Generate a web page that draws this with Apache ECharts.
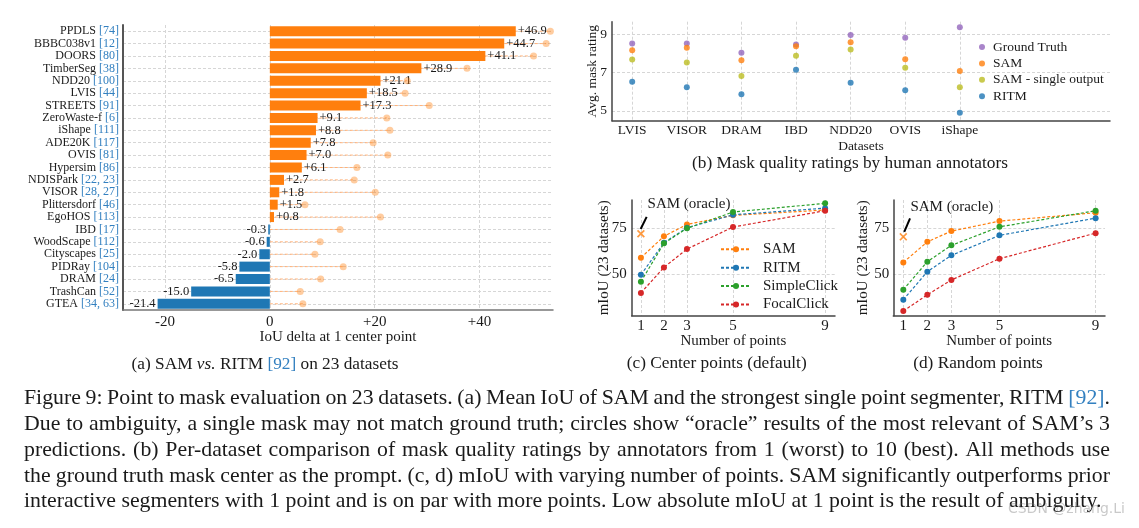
<!DOCTYPE html>
<html><head><meta charset="utf-8">
<script src="https://cdn.jsdelivr.net/npm/echarts@6/dist/echarts.min.js"></script>
<style>html,body{margin:0;padding:0;background:#fff}#c{width:1139px;height:528px}</style>
</head><body><div id="c"></div>
<script>
// ---------- Panel (a): SAM vs. RITM ----------
const aNames = ['PPDLS','BBBC038v1','DOORS','TimberSeg','NDD20','LVIS','STREETS','ZeroWaste-f','iShape','ADE20K','OVIS','Hypersim','NDISPark','VISOR','Plittersdorf','EgoHOS','IBD','WoodScape','Cityscapes','PIDRay','DRAM','TrashCan','GTEA'];
const aRefs = ['[74]','[12]','[80]','[38]','[100]','[44]','[91]','[6]','[111]','[117]','[81]','[86]','[22, 23]','[28, 27]','[46]','[113]','[17]','[112]','[25]','[104]','[24]','[52]','[34, 63]'];
const aDelta = [46.9,44.7,41.1,28.9,21.1,18.5,17.3,9.1,8.8,7.8,7.0,6.1,2.7,1.8,1.5,0.8,-0.3,-0.6,-2.0,-5.8,-6.5,-15.0,-21.4];
const aOracle = [53.5,52.7,50.3,37.6,26.2,25.8,30.4,22.3,22.9,19.7,22.5,16.6,16.1,20.1,6.7,21.1,13.4,9.6,8.6,14.0,9.7,5.8,6.3];
const aTicks = [-20,0,20,40];

// ---------- Panel (b): mask quality ratings ----------
const bDatasets = ['LVIS','VISOR','DRAM','IBD','NDD20','OVIS','iShape'];
const bGroundTruth = [8.51,8.51,8.02,8.46,8.95,8.81,9.35];
const bSAM = [8.15,8.28,7.64,8.36,8.57,7.69,7.07];
const bSAMSingle = [7.68,7.52,6.82,7.87,8.20,7.24,6.23];
const bRITM = [6.51,6.23,5.87,7.14,6.46,6.08,4.91];
const bTicks = [5,7,9];

// ---------- Panels (c), (d): mIoU vs number of points ----------
const numPoints = [1,2,3,5,9];
const cSAM = [58.8,70.4,76.8,81.7,84.6];
const cRITM = [49.6,66.9,75.0,82.0,85.6];
const cSimpleClick = [45.9,66.6,74.7,83.5,88.2];
const cFocalClick = [39.8,53.6,63.5,75.4,84.2];
const cOracle = 71.8;
const dSAM = [56.3,67.4,73.2,78.6,83.1];
const dRITM = [36.1,51.3,60.1,70.9,80.2];
const dSimpleClick = [41.5,56.7,65.5,75.5,84.2];
const dFocalClick = [30.0,38.8,46.8,58.3,72.1];
const dOracle = 70.1;
const cdTicks = [50,75];
const oracleLabel = 'SAM (oracle)';
const cArrow = [[1.25,80.9],[0.99,74.3]];
const dArrow = [[1.28,80.1],[1.04,72.8]];
const cNote = [3.09,87.8];
const dNote = [3.02,86.0];

const captionLines = [
  'Figure 9: Point to mask evaluation on 23 datasets. (a) Mean IoU of SAM and the strongest single point segmenter, RITM [92].',
  'Due to ambiguity, a single mask may not match ground truth; circles show \u201coracle\u201d results of the most relevant of SAM\u2019s 3',
  'predictions. (b) Per-dataset comparison of mask quality ratings by annotators from 1 (worst) to 10 (best). All methods use',
  'the ground truth mask center as the prompt. (c, d) mIoU with varying number of points. SAM significantly outperforms prior',
  'interactive segmenters with 1 point and is on par with more points. Low absolute mIoU at 1 point is the result of ambiguity.'
];

// ---------- styles ----------
const FF = '"Liberation Serif", "Times New Roman", serif';
const INK = '#1a1a1a';
const REF = '#3380c0';
const ORANGE = '#ff7f0e', BLUE = '#1f77b4', GREEN = '#2ca02c', RED = '#d62728', PURPLE = '#9467bd', OLIVE = '#bcbd22';
const GRIDLINE = {color:'#d6d6d6', type:[3,2], width:1};
const X_PATH = 'path://M0,1.5L1.5,0L5,3.5L8.5,0L10,1.5L6.5,5L10,8.5L8.5,10L5,6.5L1.5,10L0,8.5L3.5,5Z';

const chart = echarts.init(document.getElementById('c'), null, {renderer:'canvas', width:1139, height:528});

function valueAxis(grid, min, max, ticks, extra) {
  return Object.assign({
    type:'value', gridIndex:grid, min:min, max:max,
    axisLine:{show:true, onZero:false, lineStyle:{color:'#444', width:1.5}},
    axisTick:{show:false, customValues:ticks},
    axisLabel:{customValues:ticks, fontSize:15, fontFamily:FF, color:INK, margin:4},
    splitLine:{show:true, lineStyle:GRIDLINE},
    nameMoveOverlap:false
  }, extra || {});
}

function lineSeries(name, xi, vals, color) {
  return {type:'line', name:name, xAxisIndex:xi, yAxisIndex:xi,
    data: numPoints.map((x,i)=>[x, vals[i]]),
    symbol:'circle', symbolSize:6, color:color,
    itemStyle:{color:color}, lineStyle:{color:color, width:1.2, type:[3,2]}, z:3};
}

function oracleSeries(xi, val, arrow, note) {
  return {type:'scatter', name:'oracle'+xi, xAxisIndex:xi, yAxisIndex:xi,
    data:[[1, val]], symbol:X_PATH, symbolSize:8, itemStyle:{color:ORANGE}, z:5,
    markLine:{silent:true, symbol:['none','arrow'], symbolSize:[0,8], animation:false,
      lineStyle:{color:'#000', width:2, type:'solid'}, label:{show:false}, emphasis:{disabled:true},
      data:[[{coord:arrow[0]},{coord:arrow[1]}]]},
    markPoint:{silent:true, symbol:'circle', symbolSize:0, animation:false,
      label:{show:true, position:'inside', formatter:oracleLabel, fontSize:15, fontFamily:FF, color:INK},
      data:[{coord:note}]}
  };
}

// main caption: justified word layout
const measureCtx = document.createElement('canvas').getContext('2d');
function measure(t, fs){ measureCtx.font = fs + 'px ' + FF; return measureCtx.measureText(t).width; }
const capX0 = 24, capX1 = 1110, capLastEnd = 1102;
const capFS = 100 * (capLastEnd - capX0) / measure(captionLines[4], 100);
const capY0 = 398.5, capDY = 25.8;
const captionEls = [];
captionLines.forEach((line, li) => {
  const words = line.split(' ');
  const widths = words.map(w => measure(w, capFS));
  const total = widths.reduce((a,b)=>a+b, 0);
  const gap = li < captionLines.length - 1 ? (capX1 - capX0 - total) / (words.length - 1) : measure(' ', capFS);
  let x = capX0;
  words.forEach((w, wi) => {
    const txt = w === '[92].' ? '{r|[92]}.' : w;
    captionEls.push({type:'text', x:x, y:capY0 + li*capDY, silent:true,
      style:{text:txt, fontSize:capFS, fontFamily:FF, fill:INK, verticalAlign:'middle', textVerticalAlign:'middle',
        rich:{r:{fontSize:capFS, fontFamily:FF, fill:REF}}}});
    x += widths[wi] + gap;
  });
});

function subCaption(x, y, text, rich) {
  return {type:'text', x:x, y:y, silent:true,
    style:{text:text, fontSize:17.3, fontFamily:FF, fill:INK, align:'center', verticalAlign:'middle',
      textAlign:'center', textVerticalAlign:'middle', rich:rich || {}}};
}

const option = {
  animation:false,
  backgroundColor:'#fff',
  textStyle:{fontFamily:FF},
  grid:[
    {left:123, top:25, width:430, height:285, outerBoundsMode:'none'},
    {left:612, top:21.7, width:498, height:99, outerBoundsMode:'none'},
    {left:631.7, top:200, width:203.3, height:115.7, outerBoundsMode:'none'},
    {left:893.3, top:200, width:211.7, height:115.7, outerBoundsMode:'none'}
  ],
  xAxis:[
    valueAxis(0, -28, 54, aTicks, {
      axisLine:{show:true, onZero:false, lineStyle:{color:'#777', width:1.5}},
      axisLabel:{customValues:aTicks, fontSize:15, fontFamily:FF, color:INK, margin:5, formatter:v => v > 0 ? '+' + v : String(v)},
      name:'IoU delta at 1 center point', nameLocation:'middle', nameGap:19.5,
      nameTextStyle:{fontSize:15, fontFamily:FF, color:INK}}),
    valueAxis(1, -0.37, 8.75, bDatasets.map((_, i) => i), {
      axisLabel:{customValues:bDatasets.map((_, i) => i), fontSize:13.5, fontFamily:FF, color:INK, margin:3, formatter:v => bDatasets[v]},
      name:'Datasets', nameLocation:'middle', nameGap:19,
      nameTextStyle:{fontSize:13.5, fontFamily:FF, color:INK}}),
    valueAxis(2, 0.6, 9.43, numPoints, {
      axisLabel:{customValues:numPoints, fontSize:15, fontFamily:FF, color:INK, margin:3},
      name:'Number of points', nameLocation:'middle', nameGap:18, nameTextStyle:{fontSize:15, fontFamily:FF, color:INK}}),
    valueAxis(3, 0.584, 9.39, numPoints, {
      axisLabel:{customValues:numPoints, fontSize:15, fontFamily:FF, color:INK, margin:3},
      name:'Number of points', nameLocation:'middle', nameGap:18, nameTextStyle:{fontSize:15, fontFamily:FF, color:INK}})
  ],
  yAxis:[
    {type:'category', gridIndex:0, data:aNames, inverse:true,
      axisLine:{show:true, onZero:false, lineStyle:{color:'#555', width:2}},
      axisTick:{show:false},
      axisLabel:{interval:0, margin:4, formatter:(v, i) => '{n|' + v + ' }{r|' + aRefs[i] + '}',
        rich:{n:{fontSize:12, fontFamily:FF, color:INK}, r:{fontSize:12, fontFamily:FF, color:REF}}},
      splitLine:{show:true, interval:0, alignWithLabel:true, lineStyle:GRIDLINE}},
    valueAxis(1, 4.49, 9.64, bTicks, {
      axisLabel:{customValues:bTicks, fontSize:13.5, fontFamily:FF, color:INK, margin:5},
      name:'Avg. mask rating', nameLocation:'middle', nameGap:12.5, nameTextStyle:{fontSize:13.5, fontFamily:FF, color:INK}}),
    valueAxis(2, 27.5, 90, cdTicks, {
      axisLabel:{customValues:cdTicks, fontSize:15, fontFamily:FF, color:INK, margin:5},
      name:'mIoU (23 datasets)', nameLocation:'middle', nameGap:20.5, nameTextStyle:{fontSize:15, fontFamily:FF, color:INK}}),
    valueAxis(3, 27.5, 90, cdTicks, {
      axisLabel:{customValues:cdTicks, fontSize:15, fontFamily:FF, color:INK, margin:4},
      name:'mIoU (23 datasets)', nameLocation:'middle', nameGap:22.5, nameTextStyle:{fontSize:15, fontFamily:FF, color:INK}})
  ],
  legend:[
    {orient:'vertical', left:979, top:40, padding:0, itemWidth:12, itemHeight:6, itemGap:2.4, icon:'circle',
      data:['b:Ground Truth','b:SAM','b:SAM - single output','b:RITM'], formatter:n => n.slice(2),
      textStyle:{fontSize:13.5, fontFamily:FF, color:INK}, selectedMode:false},
    {orient:'vertical', left:720, top:241.8, padding:0, itemWidth:30, itemHeight:7.5, itemGap:3.4,
      data:['SAM','RITM','SimpleClick','FocalClick'], formatter:n => '{t|' + n + '}',
      textStyle:{fontSize:15, fontFamily:FF, color:INK,
        rich:{t:{fontSize:15, fontFamily:FF, color:INK, padding:[0,0,0,7]}}}, selectedMode:false}
  ],
  series:[
    {type:'custom', name:'oracle-link', xAxisIndex:0, yAxisIndex:0, z:1, silent:true,
      data:aOracle.map((v, i) => [v, i]), encode:{x:0, y:1},
      renderItem:(params, api) => {
        const p0 = api.coord([0, api.value(1)]);
        const p1 = api.coord([api.value(0), api.value(1)]);
        return {type:'line', shape:{x1:p0[0], y1:p0[1], x2:p1[0], y2:p1[1]},
          style:{stroke:'#ffb27a', lineWidth:1, lineDash:[3,2]}};
      }},
    {type:'bar', name:'delta', xAxisIndex:0, yAxisIndex:0, barWidth:10, z:2,
      data:aDelta.map(v => ({value:v, itemStyle:{color: v >= 0 ? ORANGE : BLUE},
        label:{position: v >= 0 ? 'right' : 'left'}})),
      label:{show:true, distance:2, fontSize:12.5, fontFamily:FF, color:INK,
        formatter:p => (p.value > 0 ? '+' : '') + p.value.toFixed(1)}},
    {type:'scatter', name:'oracle-a', xAxisIndex:0, yAxisIndex:0, z:3, symbolSize:7,
      itemStyle:{color:'rgba(255,127,14,0.5)'}, data:aOracle.map((v, i) => [v, i])},

    {type:'scatter', name:'b:Ground Truth', xAxisIndex:1, yAxisIndex:1, symbolSize:6, itemStyle:{color:PURPLE}, data:bGroundTruth.map((v,i)=>[i,v])},
    {type:'scatter', name:'b:SAM', xAxisIndex:1, yAxisIndex:1, symbolSize:6, itemStyle:{color:ORANGE}, data:bSAM.map((v,i)=>[i,v])},
    {type:'scatter', name:'b:SAM - single output', xAxisIndex:1, yAxisIndex:1, symbolSize:6, itemStyle:{color:OLIVE}, data:bSAMSingle.map((v,i)=>[i,v])},
    {type:'scatter', name:'b:RITM', xAxisIndex:1, yAxisIndex:1, symbolSize:6, itemStyle:{color:BLUE}, data:bRITM.map((v,i)=>[i,v])},

    lineSeries('SAM', 2, cSAM, ORANGE),
    lineSeries('RITM', 2, cRITM, BLUE),
    lineSeries('SimpleClick', 2, cSimpleClick, GREEN),
    lineSeries('FocalClick', 2, cFocalClick, RED),
    oracleSeries(2, cOracle, cArrow, cNote),
    lineSeries('SAM', 3, dSAM, ORANGE),
    lineSeries('RITM', 3, dRITM, BLUE),
    lineSeries('SimpleClick', 3, dSimpleClick, GREEN),
    lineSeries('FocalClick', 3, dFocalClick, RED),
    oracleSeries(3, dOracle, dArrow, dNote)
  ],
  graphic:[
    subCaption(265, 364, '(a) SAM {i|vs.} RITM {r|[92]} on 23 datasets', {
      i:{fontSize:17.3, fontFamily:FF, fontStyle:'italic', fill:INK},
      r:{fontSize:17.3, fontFamily:FF, fill:REF}}),
    subCaption(850, 163, '(b) Mask quality ratings by human annotators'),
    subCaption(716.7, 363.3, '(c) Center points (default)'),
    subCaption(978, 363.3, '(d) Random points')
  ].concat(captionEls).concat([
    {type:'text', x:1125, y:509, silent:true,
      style:{text:'CSDN @zhang.Li', fontSize:14, fontFamily:'"DejaVu Sans", sans-serif', fill:'rgba(120,120,120,0.4)',
        align:'right', verticalAlign:'middle', textAlign:'right', textVerticalAlign:'middle'}}
  ])
};
chart.setOption(option);
</script>
</body></html>
